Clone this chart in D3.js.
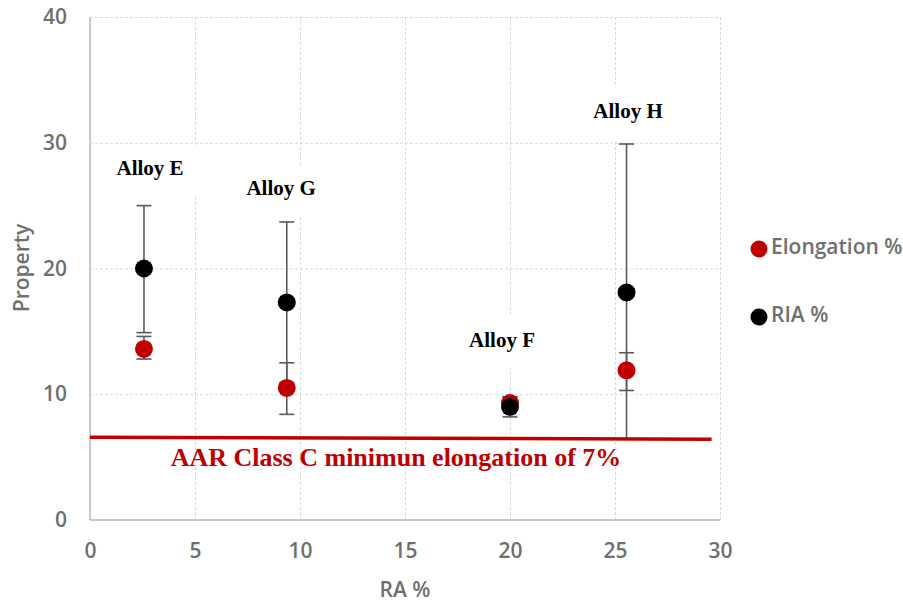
<!DOCTYPE html>
<html>
<head>
<meta charset="utf-8">
<script src="https://d3js.org/d3.v7.min.js"></script>
<style>
  body { margin: 0; background: #fff; }
  .tick text { font-family: "Open Sans", sans-serif; font-weight: 600; font-size: 21px; fill: #6f6f6f; }
  .legend text, .axis-title { font-family: "Open Sans", sans-serif; font-weight: 600; font-size: 21px; fill: #6f6f6f; }
  .alloy { font-family: "Liberation Serif", serif; font-weight: bold; font-size: 21px; fill: #000; }
  .limit-text { font-family: "Liberation Serif", serif; font-weight: bold; font-size: 26px; fill: #c00000; }
</style>
</head>
<body>
<div id="chart"></div>
<script>
// data
var alloys = ["Alloy E", "Alloy G", "Alloy F", "Alloy H"];
var ra = [2.57, 9.37, 20.0, 25.55];
var elongation = [13.6, 10.5, 9.3, 11.9];
var elongLow = [12.8, 8.4, 8.8, 10.3];
var elongHigh = [14.6, 12.5, 9.8, 13.3];
var ria = [20.0, 17.3, 9.0, 18.1];
var riaLow = [14.9, 10.9, 8.2, 6.45];
var riaHigh = [25.0, 23.7, 9.8, 29.9];
var seriesNames = ["Elongation %", "RIA %"];
var xTicks = [0, 5, 10, 15, 20, 25, 30];
var yTicks = [0, 10, 20, 30, 40];
var limitLine = [[0, 6.58], [29.6, 6.42]];
var limitText = "AAR Class C minimun elongation of 7%";

// where the annotation boxes sit (data units)
var labelX = [2.86, 9.1, 19.62, 25.62];
var labelY = [27.44, 25.85, 13.76, 32.0];
var limitTextPos = [3.84, 4.29];

var W = 903, H = 603;
var plotL = 90, plotR = 720, plotT = 17, plotB = 520;
var red = "#c00000", black = "#000000", barColor = "#595959";

var svg = d3.select("#chart").append("svg")
    .attr("width", W)
    .attr("height", H);

var x = d3.scaleLinear().domain([0, 30]).range([plotL, plotR]);
var y = d3.scaleLinear().domain([0, 40]).range([plotB, plotT]);

// gridlines
var gx = svg.append("g")
    .attr("transform", "translate(0," + plotB + ")")
    .call(d3.axisBottom(x).tickValues(xTicks.slice(1)).tickSize(-(plotB - plotT)).tickFormat(""));
var gy = svg.append("g")
    .attr("transform", "translate(" + plotL + ",0)")
    .call(d3.axisLeft(y).tickValues(yTicks.slice(1)).tickSize(-(plotR - plotL)).tickFormat(""));
[gx, gy].forEach(function (g) {
    g.select(".domain").remove();
    g.selectAll("line").attr("stroke", "#d9d9d9").attr("stroke-dasharray", "3,2");
});

// axis lines
svg.append("line").attr("x1", x(0)).attr("x2", x(0)).attr("y1", y(40)).attr("y2", y(0))
    .attr("stroke", "#c8c8c8").attr("stroke-width", 2);
svg.append("line").attr("x1", x(0)).attr("x2", x(30)).attr("y1", y(0)).attr("y2", y(0))
    .attr("stroke", "#c8c8c8").attr("stroke-width", 2);

// tick labels
var ax = svg.append("g")
    .attr("transform", "translate(0," + plotB + ")")
    .call(d3.axisBottom(x).tickValues(xTicks).tickSize(0).tickPadding(23));
var ay = svg.append("g")
    .attr("transform", "translate(" + plotL + ",0)")
    .call(d3.axisLeft(y).tickValues(yTicks).tickSize(0).tickPadding(23));
ax.select(".domain").remove();
ay.select(".domain").remove();
ax.attr("font-family", null).attr("font-size", null);
ay.attr("font-family", null).attr("font-size", null);

// axis titles
svg.append("text").attr("class", "axis-title")
    .attr("x", 405).attr("y", 597)
    .attr("text-anchor", "middle")
    .text("RA %");
svg.append("text").attr("class", "axis-title")
    .attr("transform", "translate(29,268) rotate(-90)")
    .attr("text-anchor", "middle")
    .text("Property");

// alloy labels with white boxes
alloys.forEach(function (name, i) {
    var g = svg.append("g");
    var box = g.append("rect").attr("fill", "#fff");
    var t = g.append("text").attr("class", "alloy")
        .attr("x", x(labelX[i])).attr("y", y(labelY[i]))
        .attr("text-anchor", "middle")
        .text(name);
    var b = t.node().getBBox();
    box.attr("x", b.x - 13).attr("width", b.width + 26)
        .attr("y", y(labelY[i]) - 30).attr("height", 52);
});

// error bars
function errorBars(low, high) {
    var g = svg.append("g").attr("stroke", barColor).attr("stroke-width", 1.6);
    ra.forEach(function (r, i) {
        g.append("line").attr("x1", x(r)).attr("x2", x(r))
            .attr("y1", y(low[i])).attr("y2", y(high[i]));
        [low[i], high[i]].forEach(function (v) {
            g.append("line").attr("x1", x(r) - 7.5).attr("x2", x(r) + 7.5)
                .attr("y1", y(v)).attr("y2", y(v));
        });
    });
}
errorBars(elongLow, elongHigh);
errorBars(riaLow, riaHigh);

// markers
svg.append("g").selectAll("circle").data(elongation).join("circle")
    .attr("cx", function (d, i) { return x(ra[i]); })
    .attr("cy", function (d) { return y(d); })
    .attr("r", 9).attr("fill", red);
svg.append("g").selectAll("circle").data(ria).join("circle")
    .attr("cx", function (d, i) { return x(ra[i]); })
    .attr("cy", function (d) { return y(d); })
    .attr("r", 9).attr("fill", black);

// 7% limit line and text
svg.append("line")
    .attr("x1", x(limitLine[0][0])).attr("y1", y(limitLine[0][1]))
    .attr("x2", x(limitLine[1][0])).attr("y2", y(limitLine[1][1]))
    .attr("stroke", red).attr("stroke-width", 3.5);
svg.append("text").attr("class", "limit-text")
    .attr("x", x(limitTextPos[0])).attr("y", y(limitTextPos[1]))
    .text(limitText);

// legend
var legend = svg.append("g").attr("class", "legend");
var legColors = [red, black];
var legY = [249, 317];
seriesNames.forEach(function (s, i) {
    legend.append("circle").attr("cx", 759).attr("cy", legY[i]).attr("r", 8.5).attr("fill", legColors[i]);
    legend.append("text").attr("x", 771).attr("y", legY[i] + 5)
        .text(s);
});
</script>
</body>
</html>
